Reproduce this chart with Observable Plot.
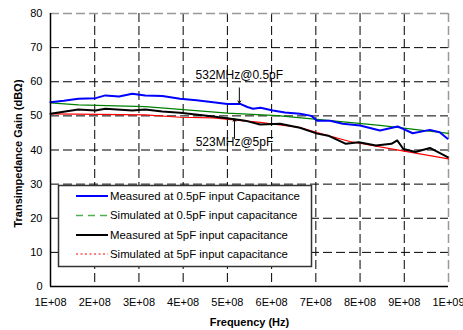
<!DOCTYPE html>
<html><head><meta charset="utf-8">
<script src="https://cdn.jsdelivr.net/npm/d3@7"></script>
<script src="https://cdn.jsdelivr.net/npm/@observablehq/plot@0.6"></script>
<style>body{margin:0;background:#fff;}</style>
</head><body><div id="chart"></div>
<script>
// Tick values and labels
const xTicks = [1e8, 2e8, 3e8, 4e8, 5e8, 6e8, 7e8, 8e8, 9e8, 1e9];
const xTickLabels = ["1E+08","2E+08","3E+08","4E+08","5E+08","6E+08","7E+08","8E+08","9E+08","1E+09"];
const yTicks = [0, 10, 20, 30, 40, 50, 60, 70, 80];

// Series (frequency in MHz, gain in dBΩ)
const meas05Freq = [100,130,163,202,224,255,285,314,353,393,430,468,500,529,545,558,575,603,630,664,690,703,732,761,800,845,885,919,958,980,998];
const meas05Gain = [54.0,54.4,55.0,55.2,56.0,55.7,56.5,56.0,55.8,55.0,54.6,54.0,53.5,53.5,52.6,52.1,52.4,51.6,51.0,50.6,50.0,48.6,48.6,47.7,47.2,45.7,46.9,44.9,45.9,45.2,43.3];

const sim05Freq = [100,163,314,393,500,613,703,845,1000];
const sim05Gain = [53.8,53.2,52.7,51.9,50.8,50.1,49.0,47.2,44.9];

const meas5Freq = [100,163,202,224,285,314,353,393,468,529,540,574,619,664,703,728,768,797,836,871,884,898,925,958,998];
const meas5Gain = [50.6,51.9,51.6,52.1,51.6,51.9,51.3,50.9,49.8,48.8,48.6,47.5,47.7,46.5,44.8,44.2,41.8,42.3,41.3,41.8,42.8,40.3,39.4,40.6,37.9];

const sim5Freq = [100,314,393,468,574,664,703,777,890,1000];
const sim5Gain = [50.6,50.3,49.6,49.4,48.1,46.6,45.1,42.5,39.9,37.4];

// Annotations
const annotLabels = ["532MHz@0.5pF", "523MHz@5pF"];
const annotFreq = [527, 516];
const annotTextGain = [61.8, 42.3];
const annotArrowFrom = [58.2, 43.4];
const annotArrowTo = [53.7, 49.1];

// Legend
const legendLabels = ["Measured at 0.5pF input Capacitance","Simulated at 0.5pF input capacitance","Measured at 5pF input capacitance","Simulated at 5pF input capacitance"];

const toTable = (fs, gs) => fs.map((f, i) => ({f: f * 1e6, g: gs[i]}));
const meas05 = toTable(meas05Freq, meas05Gain);
const sim05 = toTable(sim05Freq, sim05Gain);
const meas5 = toTable(meas5Freq, meas5Gain);
const sim5 = toTable(sim5Freq, sim5Gain);
const annots = annotLabels.map((t, i) => ({t, f: annotFreq[i] * 1e6, ty: annotTextGain[i], y1: annotArrowFrom[i], y2: annotArrowTo[i]}));

const font = "'Liberation Sans', Arial, sans-serif";
const dash = "9,4";

const plot = Plot.plot({
  width: 463, height: 330,
  marginLeft: 50, marginRight: 15, marginTop: 13, marginBottom: 44,
  style: {fontFamily: font, fontSize: "11px", background: "#fff", color: "#000"},
  x: {type: "linear", domain: [1e8, 1e9]},
  y: {domain: [0, 80]},
  marks: [
    Plot.ruleY(yTicks.slice(1, -1), {stroke: "#000", strokeWidth: 1, strokeDasharray: dash}),
    Plot.ruleX(xTicks.slice(1, -1), {stroke: "#000", strokeWidth: 1, strokeDasharray: dash}),
    Plot.ruleY([yTicks[yTicks.length - 1]], {stroke: "#999", strokeWidth: 1.5, strokeDasharray: dash}),
    Plot.ruleX([xTicks[xTicks.length - 1]], {stroke: "#999", strokeWidth: 1.5, strokeDasharray: dash}),
    Plot.axisY({ticks: yTicks, tickSize: 0, tickPadding: 8, label: null, fontSize: 11}),
    Plot.axisX({ticks: xTicks, tickFormat: d => xTickLabels[xTicks.indexOf(d)], tickSize: 0, tickPadding: 12, label: null, fontSize: 11}),
    Plot.line(sim05, {x: "f", y: "g", stroke: "#008000", strokeWidth: 1.2}),
    Plot.line(sim5, {x: "f", y: "g", stroke: "#ff0000", strokeWidth: 1.2}),
    Plot.line(meas05, {x: "f", y: "g", stroke: "#0000ff", strokeWidth: 2}),
    Plot.line(meas5, {x: "f", y: "g", stroke: "#000", strokeWidth: 2}),
    Plot.arrow(annots, {x1: "f", x2: "f", y1: "y1", y2: "y2", stroke: "#000", strokeWidth: 1, headLength: 4}),
    Plot.text(annots, {x: "f", y: "ty", text: "t", fontSize: 12, fill: "#000"}),
    Plot.ruleY([yTicks[0]], {stroke: "#000", strokeWidth: 1.5}),
    Plot.ruleX([xTicks[0]], {stroke: "#000", strokeWidth: 1.5}),
    Plot.text(["Frequency (Hz)"], {frameAnchor: "bottom", textAnchor: "middle", lineAnchor: "middle", dy: 36, fontWeight: "bold", fontSize: 11}),
    Plot.text(["Transimpedance Gain (dBΩ)"], {frameAnchor: "left", textAnchor: "middle", lineAnchor: "middle", rotate: -90, dx: -32, dy: 3.5, fontWeight: "bold", fontSize: 11})
  ]
});

// Legend drawn inside the SVG
const svg = d3.select(plot);
const lg = svg.append("g").attr("font-family", font).attr("font-size", 11.4).attr("text-anchor", "start");
lg.append("rect").attr("x", 58.5).attr("y", 185.5).attr("width", 253).attr("height", 81)
  .attr("fill", "#fff").attr("stroke", "#333").attr("stroke-width", 1.5);
const swatches = [
  {stroke: "#0000ff", w: 2, dash: null},
  {stroke: "#4fae4f", w: 1.5, dash: "7,5"},
  {stroke: "#000", w: 2, dash: null},
  {stroke: "#ff0000", w: 1.2, dash: "2,2.5"}
];
const rowY = [196, 215.5, 235, 254];
legendLabels.forEach((lab, i) => {
  const s = swatches[i];
  const ln = lg.append("line").attr("x1", 76).attr("x2", 108).attr("y1", rowY[i]).attr("y2", rowY[i])
    .attr("stroke", s.stroke).attr("stroke-width", s.w);
  if (s.dash) ln.attr("stroke-dasharray", s.dash);
  lg.append("text").attr("x", 110).attr("y", rowY[i]).attr("dy", "0.35em").attr("text-anchor", "start").attr("fill", "#000").text(lab);
});

document.getElementById("chart").append(plot);
</script>
</body></html>
